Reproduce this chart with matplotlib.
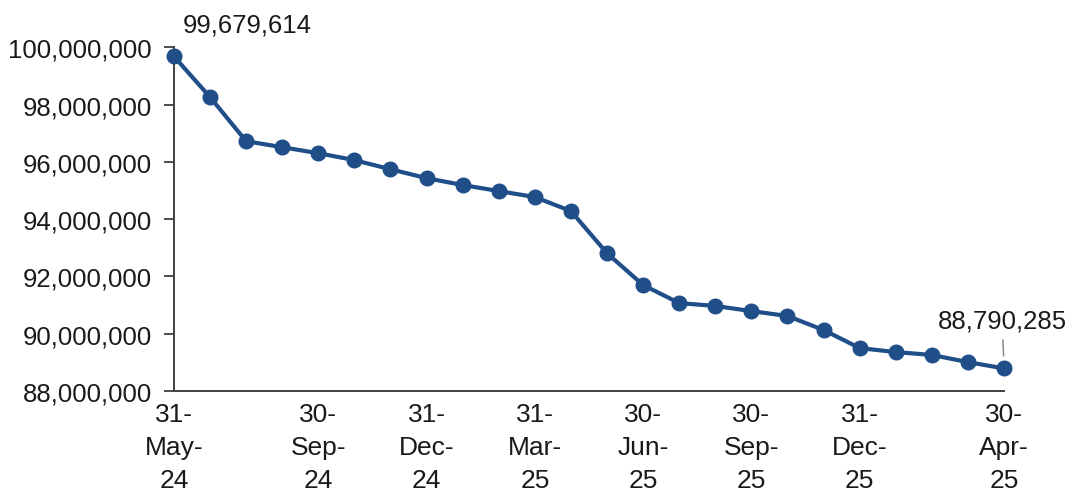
import matplotlib.pyplot as plt
from matplotlib.ticker import FuncFormatter

plt.rcParams['font.family'] = ['Liberation Sans', 'DejaVu Sans']

values = [99679614, 98260000, 96720000, 96510000, 96300000, 96060000,
          95740000, 95430000, 95190000, 94980000, 94770000, 94280000,
          92810000, 91700000, 91070000, 90970000, 90790000, 90620000,
          90130000, 89500000, 89360000, 89260000, 89010000, 88790285]
tick_pos = [0, 4, 7, 10, 13, 16, 19, 23]
tick_labels = ["31-\nMay-\n24", "30-\nSep-\n24", "31-\nDec-\n24", "31-\nMar-\n25",
               "30-\nJun-\n25", "30-\nSep-\n25", "31-\nDec-\n25", "30-\nApr-\n25"]

fig = plt.figure(figsize=(10.67, 5.02), dpi=100)
ax = fig.add_axes([0.163, 0.219, 0.778, 0.685])

x = list(range(len(values)))
ax.plot(x, values, color="#1F4E89", lw=3, marker="o", markersize=10.5, clip_on=False, zorder=3)

ax.set_xlim(0, len(values) - 1)
ax.set_ylim(88000000, 100000000)
ax.set_yticks(range(88000000, 100000001, 2000000))
ax.yaxis.set_major_formatter(FuncFormatter(lambda v, p: f"{int(v):,}"))
ax.set_xticks(tick_pos)
ax.set_xticklabels(tick_labels, linespacing=1.47)

for s in ["top", "right"]:
    ax.spines[s].set_visible(False)
for s in ["left", "bottom"]:
    ax.spines[s].set_color("#404040")
    ax.spines[s].set_linewidth(1.4)
ax.tick_params(axis="y", length=7, width=1.3, color="#404040", labelsize=18.5, pad=9,
               labelcolor="#1a1a1a")
ax.tick_params(axis="x", length=0, labelsize=19, pad=8, labelcolor="#1a1a1a")

ax.annotate(f"{values[0]:,}", xy=(0, values[0]), xytext=(0.25, 100800000),
            fontsize=18.5, ha="left", va="center", annotation_clip=False, color="#1a1a1a")
ax.annotate(f"{values[-1]:,}", xy=(23, values[-1]), xytext=(22.95, 90450000),
            fontsize=18.5, ha="center", va="center", annotation_clip=False, color="#1a1a1a",
            arrowprops=dict(arrowstyle="-", color="#808080", lw=1, shrinkA=3, shrinkB=9))

fig.savefig("out.png", dpi=100)
